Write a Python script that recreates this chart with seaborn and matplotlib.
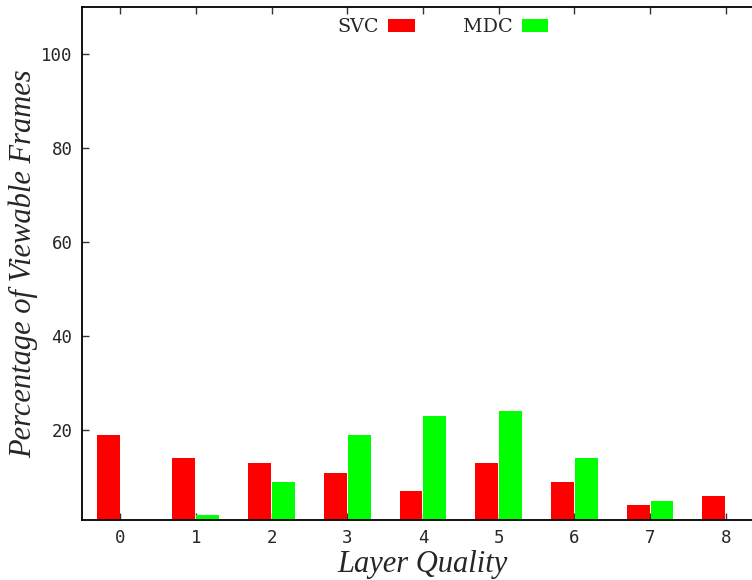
import matplotlib
matplotlib.use("Agg")
import matplotlib.pyplot as plt
import seaborn as sns
import pandas as pd
from matplotlib.patches import Patch

layers = [0, 1, 2, 3, 4, 5, 6, 7, 8]
svc = [19, 14, 13, 11, 7, 13, 9, 4, 6]
mdc = [0, 2, 9, 19, 23, 24, 14, 5, 0]
series = ["SVC", "MDC"]
colors = {"SVC": "#ff0000", "MDC": "#00ff00"}
yticks = [20, 40, 60, 80, 100]

df = pd.DataFrame({
    "layer": layers * 2,
    "value": svc + mdc,
    "scheme": ["SVC"] * len(layers) + ["MDC"] * len(layers),
})

sns.set_style("white")
fig = plt.figure(figsize=(7.52, 5.8), dpi=100)
ax = fig.add_axes([0.1094, 0.1043, 0.906, 0.8828])

sns.barplot(data=df, x="layer", y="value", hue="scheme", hue_order=series,
            palette=colors, saturation=1, width=0.63, gap=0.04, ax=ax,
            legend=False, edgecolor="none", linewidth=0)

ax.set_xlim(-0.5, 8.5)
ax.set_ylim(1, 110)
ax.set_yticks(yticks)
ax.set_yticklabels([str(v) for v in yticks], family="DejaVu Sans Mono", fontsize=12.5)
ax.set_xticks(range(len(layers)))
ax.set_xticklabels([str(v) for v in layers], family="DejaVu Sans Mono", fontsize=12.5)

for side in ["left", "bottom", "top"]:
    ax.spines[side].set_visible(True)
    ax.spines[side].set_color("black")
    ax.spines[side].set_linewidth(1.3)
ax.spines["right"].set_visible(False)

ax.tick_params(axis="both", direction="in", length=5, width=1, color="#333333",
               top=True, bottom=True, left=True, right=False, pad=7)

ax.set_xlabel("Layer Quality", family="Liberation Serif", style="italic",
              fontsize=22, labelpad=2)
ax.set_ylabel("Percentage of Viewable Frames", family="Liberation Serif",
              style="italic", fontsize=22, labelpad=2)

handles = [Patch(facecolor=colors[s], edgecolor="none", label=s) for s in series]
ax.legend(handles=handles, loc="center", bbox_to_anchor=(443 / 752, 1 - 27 / 580),
          bbox_transform=fig.transFigure, ncol=2, markerfirst=False,
          frameon=False, handlelength=1.4, handleheight=0.67,
          columnspacing=2.5, handletextpad=0.47,
          prop={"family": "DejaVu Serif", "size": 13.8})

fig.savefig("out.png", dpi=100)
